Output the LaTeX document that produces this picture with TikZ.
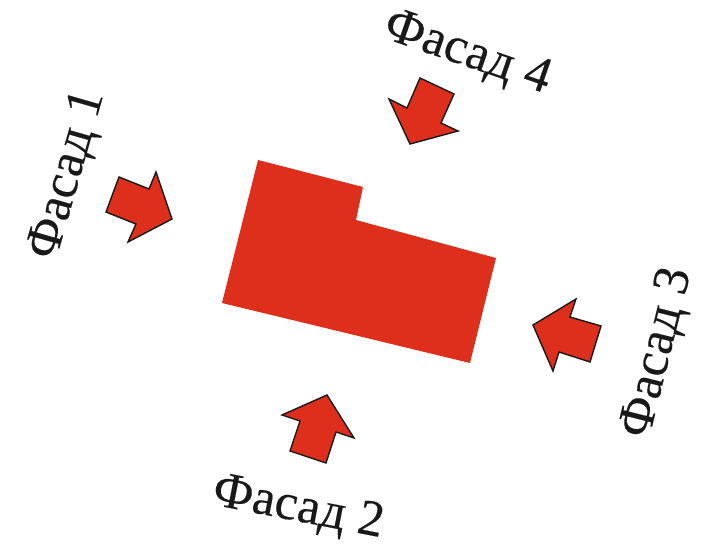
\documentclass[tikz,border=0pt]{standalone}
\usepackage{fontspec}
\setmainfont{Liberation Serif}[FakeBold=0.3]
\definecolor{facadered}{RGB}{222,46,28}
\tikzset{
  facadearrow/.style={fill=facadered,draw=black!90,line width=1.4pt,line join=miter},
  building/.style={fill=facadered,draw=none},
  facadelabel/.style={font=\fontsize{51}{51}\selectfont,text=black!90,inner sep=0pt,anchor=center}
}
\begin{document}
\begin{tikzpicture}[x=1pt,y=-1pt]
\useasboundingbox (0,0) rectangle (702,544);
\fill[building] (258,160) -- (363,187) -- (356,220) -- (496,258) -- (470,363) -- (222,303) -- cycle;
\draw[facadearrow] (119,177) -- (149,189) -- (156,172) -- (172,219) -- (128,242) -- (136,224) -- (106,212) -- cycle;
\draw[facadearrow] (420,78) -- (454,94) -- (441,123) -- (458,131) -- (410,144) -- (389,99) -- (407,108) -- cycle;
\draw[facadearrow] (533,325) -- (576,299) -- (570,317) -- (601,326) -- (590,362) -- (559,352) -- (553,371) -- cycle;
\draw[facadearrow] (327,395) -- (354,438) -- (336,432) -- (326,463) -- (290,451) -- (300,421) -- (282,415) -- cycle;
\node[facadelabel,rotate=74] (f1) at (68,175) {Фасад 1};
\node[facadelabel,rotate=-11] (f2) at (298,509) {Фасад 2};
\node[facadelabel,rotate=76] (f3) at (658,353) {Фасад 3};
\node[facadelabel,rotate=-19] (f4) at (467,54) {Фасад 4};
\end{tikzpicture}
\end{document}
